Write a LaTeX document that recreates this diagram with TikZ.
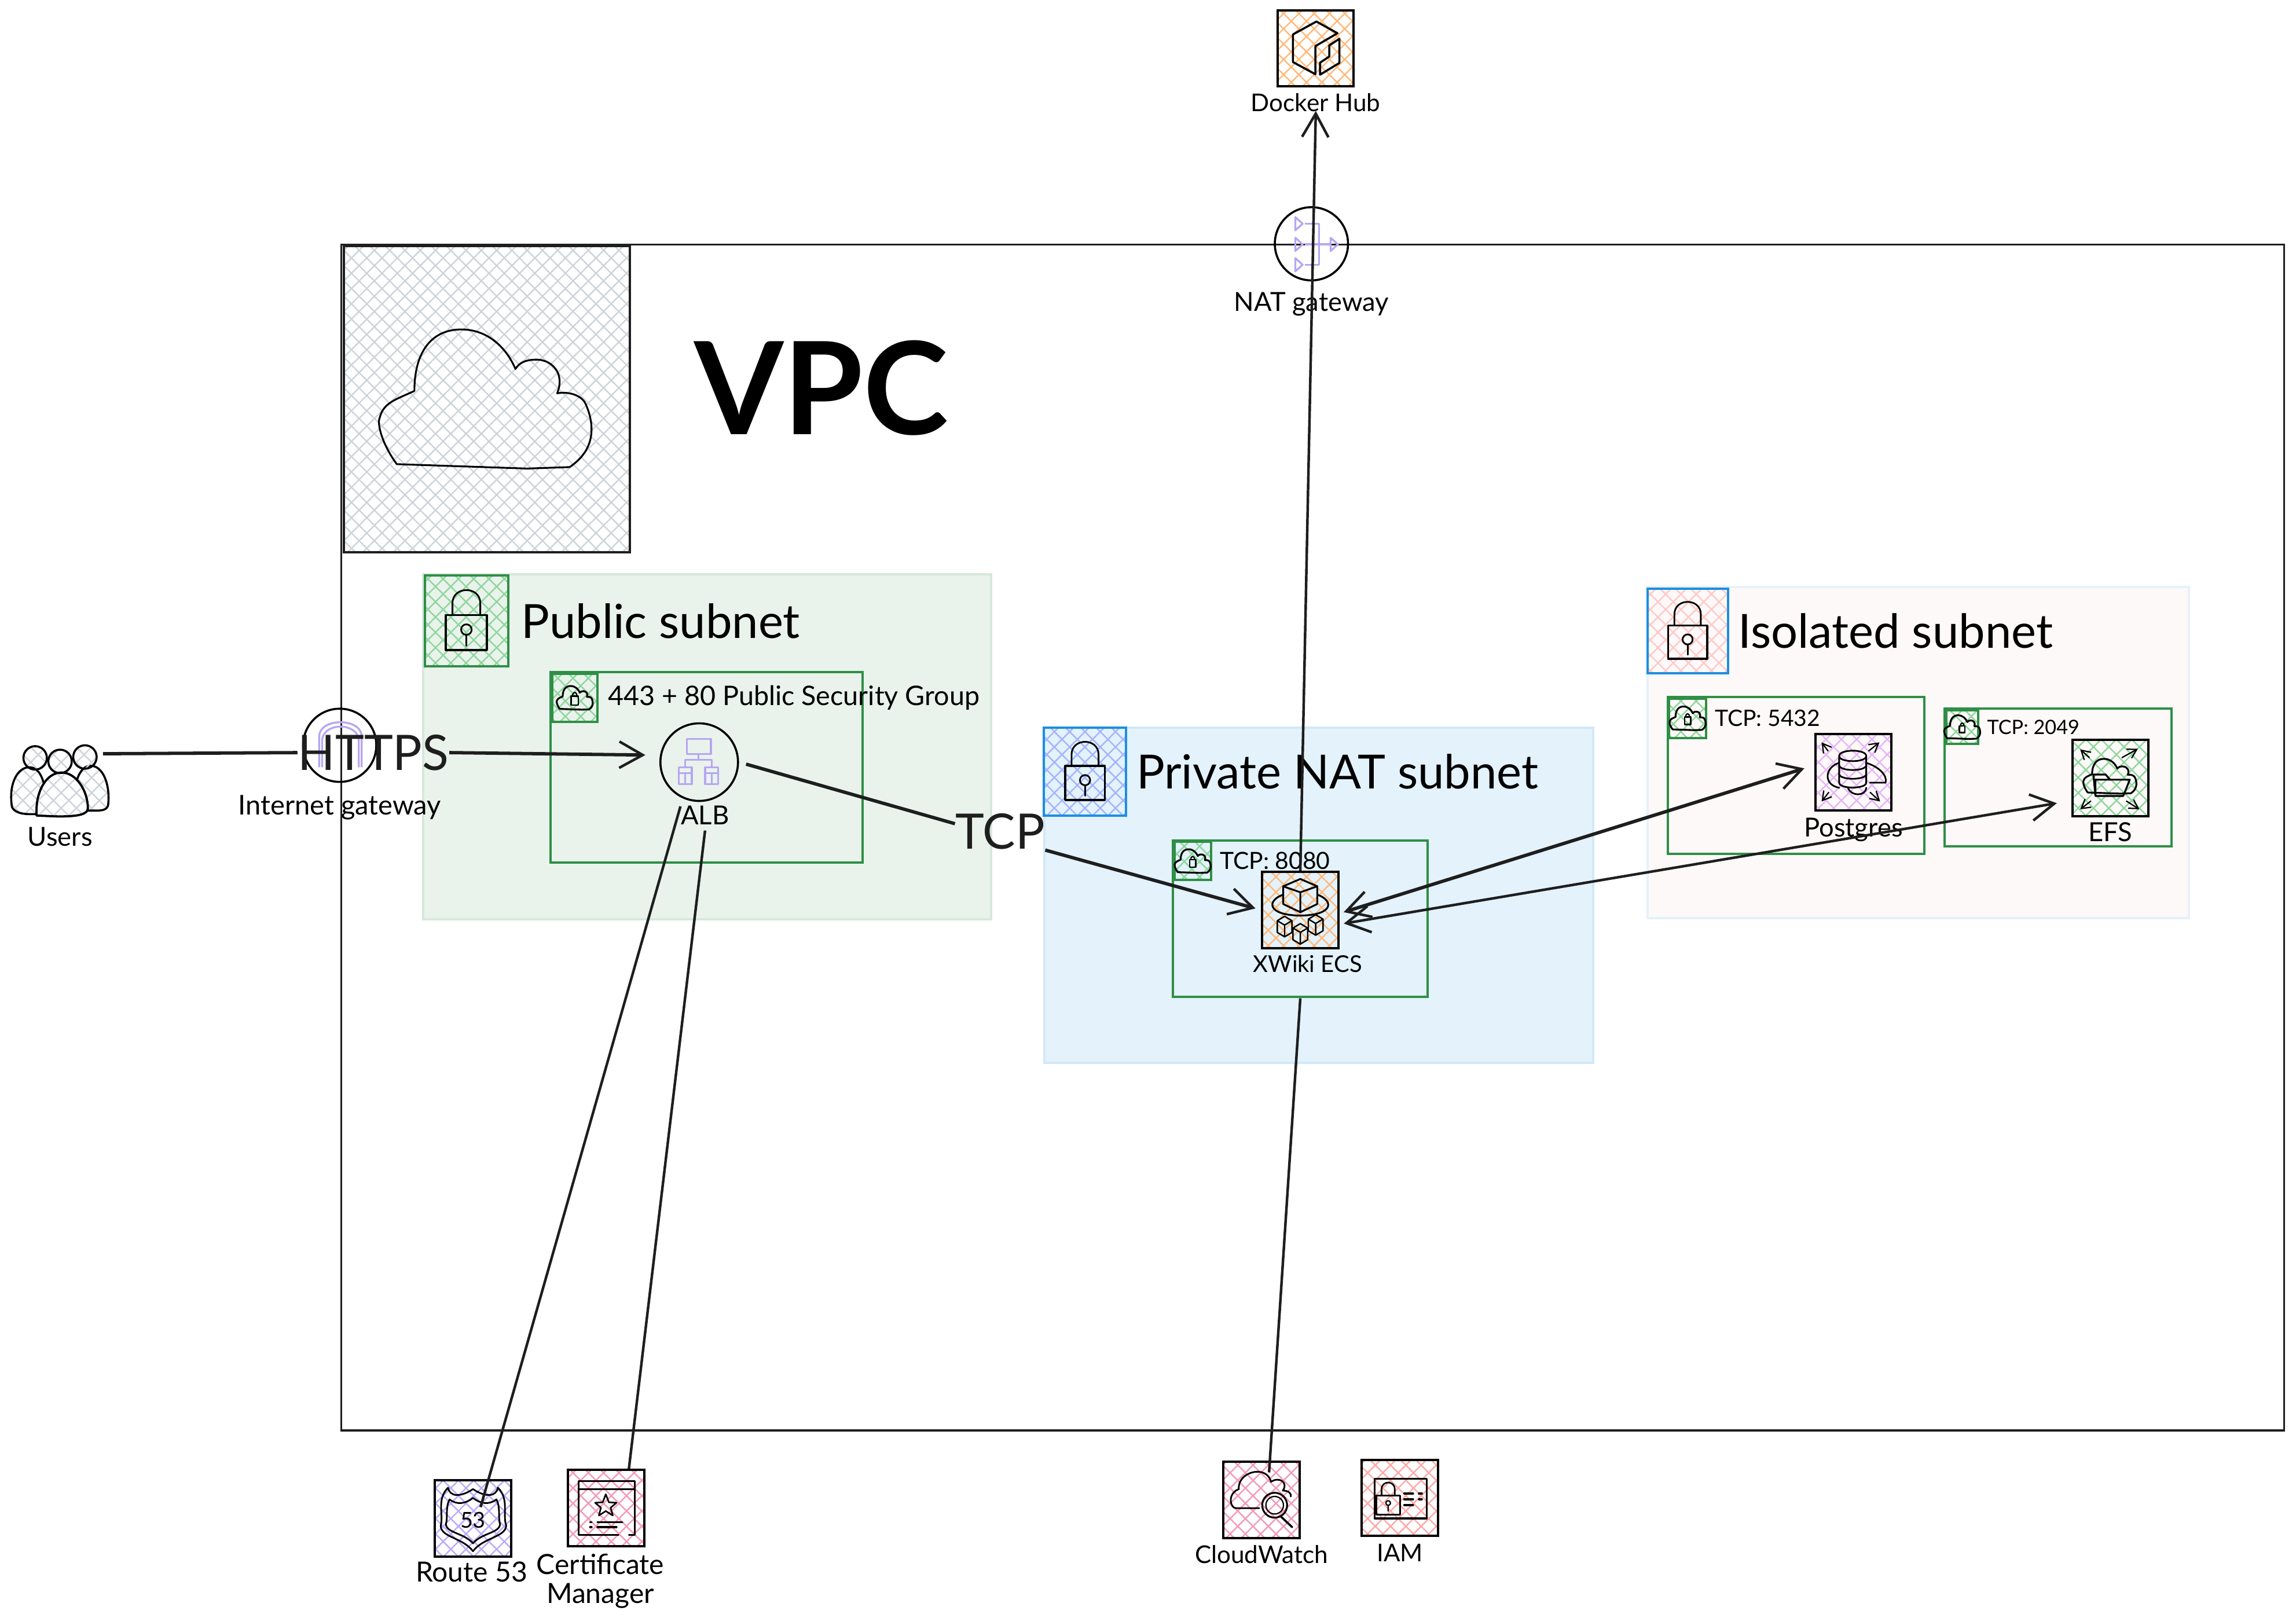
\documentclass[tikz,border=0pt]{standalone}
\usepackage{fontspec}
\setmainfont{Lato}
\usepackage{tikz}
\usetikzlibrary{arrows.meta,positioning,patterns.meta}

\definecolor{hatchgrey}{HTML}{CED4DA}
\definecolor{hatchgreen}{HTML}{8FD69C}
\definecolor{hatchblue}{HTML}{A5B4FC}
\definecolor{hatchred}{HTML}{FFC9C9}
\definecolor{hatchorange}{HTML}{FFB97A}
\definecolor{hatchmauve}{HTML}{E6B5F7}
\definecolor{hatchviolet}{HTML}{BBAAF8}
\definecolor{hatchpink}{HTML}{F39AB8}
\definecolor{hatchrose}{HTML}{FFA8A8}
\definecolor{glyphviolet}{HTML}{B7A6F2}
\definecolor{sggreen}{HTML}{2F8F46}
\definecolor{tagblue}{HTML}{1C8FE0}
\definecolor{inkdark}{HTML}{1E1E1E}
\definecolor{pubfill}{HTML}{E9F3EC}
\definecolor{pubedge}{HTML}{D6E8DC}
\definecolor{privfill}{HTML}{E3F2FB}
\definecolor{privedge}{HTML}{D2E8F7}
\definecolor{isofill}{HTML}{FDF9F8}
\definecolor{isoedge}{HTML}{E6F1FA}

\begin{document}
\begin{tikzpicture}[x=0.02cm, y=-0.02cm, >={Straight Barb[length=3.2mm,width=3.6mm,line width=1pt]}]
  \tikzstyle{hatch}=[pattern={Hatch[angle=45,distance=4.2pt,line width=0.55pt]}]
  \tikzstyle{icon}=[draw, hatch, line width=0.9pt, minimum size=1.04cm, inner sep=0pt]
  \tikzstyle{subnet}=[draw, line width=0.9pt]
  \tikzstyle{secgroup}=[draw=sggreen, line width=0.9pt]
  \tikzstyle{tagbox}=[hatch, line width=0.9pt, inner sep=0pt]
  \tikzstyle{gate}=[draw, circle, line width=0.8pt, minimum size=1cm, inner sep=0pt]
  \tikzstyle{lab}=[font=\fontsize{10.2}{11.4}\selectfont, inner sep=0pt, align=center]
  \tikzstyle{tag}=[lab, text height=7pt, text depth=2pt]
  \tikzstyle{sglab}=[font=\fontsize{9.2}{11}\selectfont, inner sep=0pt]
  \tikzstyle{netlab}=[font=\fontsize{18.3}{20}\selectfont, inner sep=0pt]
  \tikzstyle{linklab}=[font=\fontsize{19}{22}\selectfont, inner sep=0pt, text=inkdark]
  \tikzstyle{link}=[draw=inkdark, line width=1pt]
  \tikzstyle{heavylink}=[draw=inkdark, line width=1.3pt]
  \tikzstyle{glyph}=[line width=0.8pt, line join=round, line cap=round]
  \tikzstyle{violet}=[draw=glyphviolet, line width=0.75pt, line join=round]
  \tikzstyle{tiny}=[->, >={Straight Barb[length=1.2mm,width=1.4mm,line width=0.5pt]}, line width=0.5pt]
  \tikzset{
    lockpic/.pic={
      \draw[glyph] (-14,-4) rectangle (14,20);
      \draw[glyph, line width=0.65pt] (-9.5,-4) -- (-9.5,-12) .. controls (-9.5,-24) and (9.5,-24) .. (9.5,-12) -- (9.5,-4);
      \draw[glyph, line width=0.65pt] (0,6) circle (3.6);
      \draw[glyph, line width=0.65pt] (0,9.6) -- (0,17);
    },
    cloudpic/.pic={
      \draw[glyph, line width=0.7pt] (-49,-5) .. controls (-49,-32) and (-37,-47) .. (-17,-47) .. controls (3,-47) and (15,-32) .. (20,-20)
        .. controls (23,-25) and (28,-26.4) .. (35,-26.4) .. controls (45,-26) and (54,-17) .. (48.5,-3.4)
        .. controls (58,-5) and (66,-1) .. (68,4) .. controls (72,13) and (78,33) .. (57,47) -- (28,48) -- (-61,45)
        .. controls (-70,33) and (-75,18) .. (-72.6,13) .. controls (-70,3) and (-62,1) .. (-49,-5);
    },
    sgpic/.pic={
      \pic[scale=0.17, xshift=0.3] {cloudpic};
      \draw[glyph, line width=0.6pt] (-2.4,-1) rectangle (2.4,5);
      \draw[glyph, line width=0.5pt] (-1.5,-1) .. controls (-1.5,-4.5) and (1.5,-4.5) .. (1.5,-1);
    },
    boxpic/.pic={
      \draw[glyph, line width=0.55pt] (-5,-4) -- (0,-7) -- (5,-4) -- (5,4) -- (0,7) -- (-5,4) -- cycle (-5,-4) -- (0,-1) -- (5,-4) (0,-1) -- (0,7);
    }
  }

  % containers
  \fill[white] (0,0) rectangle (1568,1105);
  \useasboundingbox (0,0) rectangle (1568,1105);
  \node[draw=inkdark, line width=0.8pt, minimum width=26.54cm, minimum height=16.2cm, inner sep=0pt] (vpc) at (896.5,572) {};
  \node[draw=inkdark, line width=0.9pt, hatch, pattern color=hatchgrey, minimum width=3.9cm, minimum height=4.18cm, inner sep=0pt] (vpcicon) at (332.5,272.5) {};
  \pic at (332,272) {cloudpic};
  \node[font=\fontsize{50}{52}\bfseries\selectfont, inner sep=0pt] (vpclab) at (561,265) {VPC};

  \node[subnet, draw=pubedge, fill=pubfill, minimum width=7.76cm, minimum height=4.72cm, inner sep=0pt] (public) at (483,510) {};
  \node[subnet, draw=privedge, fill=privfill, minimum width=7.5cm, minimum height=4.58cm, inner sep=0pt] (private) at (900.5,611.5) {};
  \node[subnet, draw=isoedge, fill=isofill, minimum width=7.4cm, minimum height=4.52cm, inner sep=0pt] (isolated) at (1310,514) {};

  \node[tagbox, draw=sggreen, pattern color=hatchgreen, minimum width=1.14cm, minimum height=1.24cm] (pubicon) at (318.5,424) {};
  \node[tagbox, draw=tagblue, pattern color=hatchblue, minimum width=1.12cm, minimum height=1.2cm] (privicon) at (741,527) {};
  \node[tagbox, draw=tagblue, pattern color=hatchred, minimum width=1.1cm, minimum height=1.16cm] (isoicon) at (1152.5,431) {};
  \pic at (pubicon) {lockpic};
  \pic[scale=0.97] at (privicon) {lockpic};
  \pic[scale=0.95] at (isoicon) {lockpic};
  \node[netlab, right=0.16cm of pubicon] (publab) {Public subnet};
  \node[netlab, right=0.12cm of privicon] (privlab) {Private NAT subnet};
  \node[netlab, right=0.12cm of isoicon] (isolab) {Isolated subnet};

  % security groups
  \node[secgroup, minimum width=4.26cm, minimum height=2.6cm, inner sep=0pt] (sgpublic) at (482.5,524) {};
  \node[secgroup, minimum width=3.48cm, minimum height=2.14cm, inner sep=0pt] (sgecs) at (888,627.5) {};
  \node[secgroup, minimum width=3.5cm, minimum height=2.14cm, inner sep=0pt] (sgdb) at (1226.5,529.5) {};
  \node[secgroup, minimum width=3.1cm, minimum height=1.88cm, inner sep=0pt] (sgefs) at (1405.5,531) {};
  \node[tagbox, draw=sggreen, pattern color=hatchgreen, minimum width=0.62cm, minimum height=0.66cm] (sgpubicon) at (392.5,476.5) {};
  \node[tagbox, draw=sggreen, pattern color=hatchgreen, minimum width=0.5cm, minimum height=0.52cm] (sgecsicon) at (814.5,588) {};
  \node[tagbox, draw=sggreen, pattern color=hatchgreen, minimum width=0.5cm, minimum height=0.54cm] (sgdbicon) at (1152.5,490.5) {};
  \node[tagbox, draw=sggreen, pattern color=hatchgreen, minimum width=0.44cm, minimum height=0.46cm] (sgefsicon) at (1340,496.5) {};
  \pic at (sgpubicon) {sgpic};
  \pic[scale=0.85] at (sgecsicon) {sgpic};
  \pic[scale=0.85] at (sgdbicon) {sgpic};
  \pic[scale=0.75] at (sgefsicon) {sgpic};
  \node[sglab, font=\fontsize{10.5}{12}\selectfont, right=0.12cm of sgpubicon] (sgpublab) {443 + 80 Public Security Group};
  \node[sglab, right=0.1cm of sgecsicon] (sgecslab) {TCP: 8080};
  \node[sglab, font=\fontsize{8.8}{11}\selectfont, right=0.1cm of sgdbicon] (sgdblab) {TCP: 5432};
  \node[sglab, font=\fontsize{7.7}{10}\selectfont, right=0.1cm of sgefsicon] (sgefslab) {TCP: 2049};

  % services
  \node[icon, pattern color=hatchorange] (docker) at (898.5,33) {};
  \draw[glyph] (883,23.5) -- (899,14.7) -- (913.4,22.7) -- (898.3,31.5) -- (898.3,50.7) -- (883,42.4) -- cycle;
  \draw[glyph] (914.7,26.5) -- (914.7,43) -- (901.5,51) -- (901.5,42.8) -- (907.8,38.6) -- (907.8,31) -- cycle;
  \node[tag, font=\fontsize{9.5}{11}\selectfont, below=0.07cm of docker] (dockerlab) {Docker Hub};

  \node[gate] (nat) at (895.6,166.5) {};
  \draw[violet] (884.6,148.3) -- (889.6,152.8) -- (884.6,157.3) -- cycle (884.6,162.4) -- (889.6,166.9) -- (884.6,171.4) -- cycle (884.6,176.3) -- (889.6,180.8) -- (884.6,185.3) -- cycle;
  \draw[violet] (891,152.8) -- (900.8,152.8) -- (900.8,180.8) -- (891,180.8) (891,166.9) -- (908.7,166.9);
  \draw[violet] (908.7,162.4) -- (913.7,166.9) -- (908.7,171.4) -- cycle;
  \node[tag, below=0.15cm of nat] (natlab) {NAT gateway};

  \node[gate] (igw) at (232,509) {};
  \draw[violet] (218,524) -- (218,503) .. controls (218,490) and (247,490) .. (247,503) -- (247,524);
  \draw[violet] (220,524) -- (220,506) .. controls (220,493) and (245,493) .. (245,506) -- (245,524);
  \node[tag, font=\fontsize{10.6}{12}\selectfont, below=0.18cm of igw] (igwlab) {Internet gateway};

  \node[inner sep=0pt, minimum width=1.32cm, minimum height=0.96cm] (users) at (41,534) {};
  \draw[glyph, hatch, pattern color=hatchgrey] (8,550) .. controls (6,535) and (12,524) .. (20,524) .. controls (28,524) and (32,535) .. (32,556) -- (20,556) .. controls (12,556) and (8,553) .. (8,550);
  \draw[glyph, hatch, pattern color=hatchgrey] (74,548) .. controls (75,535) and (70,523) .. (62,523) .. controls (54,523) and (50,535) .. (50,553.6) -- (66,553.6) .. controls (72,553.6) and (74,552) .. (74,548);
  \draw[glyph, fill=white] (25,557) .. controls (24,540) and (32,527.6) .. (42,527.6) .. controls (52,527.6) and (60,540) .. (60,552) .. controls (60,556) and (54,557.6) .. (40,557.6) -- cycle;
  \draw[glyph, hatch, pattern color=hatchgrey] (25,557) .. controls (24,540) and (32,527.6) .. (42,527.6) .. controls (52,527.6) and (60,540) .. (60,552) .. controls (60,556) and (54,557.6) .. (40,557.6) -- cycle;
  \draw[glyph, hatch, pattern color=hatchgrey] (24,517.6) circle (8);
  \draw[glyph, hatch, pattern color=hatchgrey] (58,517) circle (8);
  \draw[glyph, hatch, pattern color=hatchgrey] (41,520) circle (8);
  \node[tag, below=0.14cm of users] (userslab) {Users};

  \node[gate, minimum size=1.06cm] (alb) at (477.5,520.5) {};
  \draw[violet] (469,504.6) rectangle (485.5,515) (477,515) -- (477,519) (468,524) -- (468,519) -- (486,519) -- (486,524);
  \draw[violet] (463.5,524) rectangle (472.5,528) (481.5,524) rectangle (490.5,528);
  \draw[violet] (463.5,528) rectangle (468,535.4) (468,528) rectangle (472.5,535.4) (481.5,528) rectangle (486,535.4) (486,528) rectangle (490.5,535.4);
  \node[tag, below=0.06cm of alb, xshift=0.08cm] (alblab) {ALB};

  \node[icon, pattern color=hatchorange] (ecs) at (888,621.5) {};
  \draw[glyph, line width=0.7pt] (876.3,611) .. controls (865,615) and (865,625) .. (888,625.3) .. controls (911,625) and (911,615) .. (899.6,611);
  \draw[glyph, line width=0.7pt] (876.3,605.3) -- (888,600.3) -- (899.6,605.3) -- (899.6,617.4) -- (888,623) -- (876.3,617.4) -- cycle (876.3,605.3) -- (888,609.4) -- (899.6,605.3) (888,609.4) -- (888,623);
  \pic at (877.3,632.8) {boxpic};
  \pic at (898.5,631.7) {boxpic};
  \pic at (888,637.8) {boxpic};
  \node[tag, font=\fontsize{9}{11}\selectfont, below=0.06cm of ecs, xshift=0.1cm] (ecslab) {XWiki ECS};

  \node[icon, pattern color=hatchmauve] (postgres) at (1265.7,527.4) {};
  \draw[glyph, line width=0.65pt] (1256,516.3) .. controls (1256,511.5) and (1274.5,511.5) .. (1274.5,516.3) .. controls (1274.5,521) and (1256,521) .. (1256,516.3) -- (1256,534.5) .. controls (1256,539) and (1274.5,539) .. (1274.5,534.5) -- (1274.5,516.3);
  \draw[glyph, line width=0.65pt] (1256,522.5) .. controls (1256,527) and (1274.5,527) .. (1274.5,522.5) (1256,528.5) .. controls (1256,533) and (1274.5,533) .. (1274.5,528.5);
  \draw[glyph, line width=0.65pt] (1256,521) .. controls (1246,524) and (1245,536) .. (1256,538) (1274.5,521) .. controls (1284,524) and (1289,530) .. (1287.7,534.5) -- (1277,534.5) (1274.5,538) .. controls (1274,544) and (1264,544) .. (1262,538);
  \draw[tiny] (1248.5,513) -- (1244,507);
  \draw[tiny] (1276,513) -- (1283.5,507);
  \draw[tiny] (1249,541) -- (1244,547.4);
  \draw[tiny] (1277,541) -- (1284,547.4);
  \node[tag, below=0.09cm of postgres] (postgreslab) {Postgres};

  \node[icon, pattern color=hatchgreen] (efs) at (1441.3,531.4) {};
  \pic[scale=0.25] at (1441,530) {cloudpic};
  \draw[glyph, line width=0.7pt] (1429.6,529) -- (1438,529) -- (1441,532.5) -- (1454.5,532.5) -- (1450,543.6) -- (1431,543.6) -- cycle (1431,543.6) -- (1431,532.5) -- (1441,532.5);
  \draw[tiny] (1427,517.5) -- (1420.6,511.8);
  \draw[tiny] (1449,517.5) -- (1460,511.4);
  \draw[tiny] (1428,547) -- (1420.6,552.7);
  \draw[tiny] (1452,547) -- (1461,552.7);
  \node[tag, below=0.08cm of efs] (efslab) {EFS};

  \node[icon, pattern color=hatchviolet] (route53) at (323,1037) {};
  \draw[glyph, line width=0.65pt] (306,1016) .. controls (307,1022) and (314,1023) .. (323,1017) .. controls (332,1023) and (339,1022) .. (340,1016) .. controls (348,1024) and (343,1034) .. (345.7,1042) .. controls (345,1050) and (330,1050) .. (323,1059.4) .. controls (316,1050) and (301,1050) .. (301,1042) .. controls (303,1034) and (298,1024) .. (306,1016) -- cycle;
  \draw[glyph, line width=0.65pt] (307,1024) .. controls (312,1028) and (318,1027) .. (323,1023) .. controls (328,1027) and (334,1028) .. (339,1024) .. controls (342,1030) and (340,1036) .. (341.5,1041) .. controls (341,1047) and (329,1047) .. (323,1054) .. controls (317,1047) and (305,1047) .. (304.5,1041) .. controls (306,1036) and (304,1030) .. (307,1024) -- cycle;
  \node[font=\fontsize{8.5}{10}\selectfont, inner sep=0pt] (route53num) at (323,1038) {53};
  \node[tag, font=\fontsize{10.8}{12}\selectfont, below=0.08cm of route53, xshift=-0.02cm] (route53lab) {Route 53};

  \node[icon, pattern color=hatchpink] (acm) at (414,1030) {};
  \draw[glyph, line width=0.7pt] (422.4,1048.4) -- (395,1048.4) -- (395,1011.5) -- (433.4,1011.5) -- (433.4,1048.4) -- (429.5,1048.4) (395,1017) -- (433.4,1017);
  \draw[glyph, line width=0.6pt] (413.7,1020.5) -- (415.8,1026) -- (421,1026.3) -- (417,1029.7) -- (418.5,1035) -- (413.7,1032) -- (409,1035) -- (410.4,1029.7) -- (406.4,1026.3) -- (411.6,1026) -- cycle;
  \draw[glyph] (403,1039.5) -- (404,1039.5) (408,1039.5) -- (425,1039.5) (403,1043) -- (404,1043) (408,1043) -- (421,1043);
  \node[lab, font=\fontsize{10.8}{11.4}\selectfont, below=0.08cm of acm, xshift=-0.08cm] (acmlab) {Certificate\\Manager};

  \node[icon, pattern color=hatchpink] (cloudwatch) at (861.5,1024.4) {};
  \draw[glyph, line width=0.65pt] (860,1030) -- (844,1030) .. controls (840,1030) and (838,1020) .. (846,1017) .. controls (845,1005) and (865,1000) .. (868,1012) .. controls (874,1008) and (880,1013) .. (876,1018) .. controls (880,1018) and (882,1020) .. (881.5,1022);
  \draw[glyph, line width=0.7pt] (870.5,1028) circle (8.5);
  \draw[glyph, line width=0.5pt] (870.5,1028) circle (6);
  \draw[glyph] (874.5,1035.5) -- (882.5,1043);
  \node[tag, font=\fontsize{9.5}{11}\selectfont, below=0.08cm of cloudwatch] (cloudwatchlab) {CloudWatch};

  \node[icon, pattern color=hatchrose] (iam) at (956,1023) {};
  \draw[glyph, line width=0.7pt] (938.6,1010) rectangle (974.5,1037);
  \draw[glyph, line width=0.7pt] (940,1021.4) rectangle (956,1034.6);
  \draw[glyph, line width=0.6pt] (943.5,1021.4) -- (943.5,1017) .. controls (943.5,1011) and (952.5,1011) .. (952.5,1017) -- (952.5,1021.4);
  \draw[glyph, line width=0.5pt] (948,1026.5) circle (1.6) (948,1028) -- (948,1032);
  \draw[glyph] (959,1020) -- (965,1020) (969,1020) -- (971,1020) (959,1024) -- (965,1024) (969,1024) -- (971,1024) (959,1028) -- (965,1028);
  \node[tag, font=\fontsize{9.5}{11}\selectfont, below=0.08cm of iam] (iamlab) {IAM};

  % connections
  \node[linklab] (httpslab) at (255,514) {HTTPS};
  \node[linklab] (tcplab) at (683,568) {TCP};
  \draw[heavylink, shorten <=-0.08cm] (users.30) -- (httpslab.west);
  \draw[heavylink, ->, shorten >=0.2cm] (httpslab.east) -- (alb.170);
  \draw[heavylink, shorten <=0.1cm] (alb.east) -- (tcplab.170);
  \draw[heavylink, ->, shorten >=0.08cm] (tcplab.south east) -- (ecs.west);
  \draw[link, ->, shorten >=-0.08cm] (ecs.north) -- (dockerlab.south);
  \draw[heavylink, <->, shorten <=0.06cm, shorten >=0.14cm] (ecs.-5) -- (postgres.170);
  \draw[link, <->, shorten <=0.06cm, shorten >=0.2cm] (ecs.-20) -- (efs.210);
  \draw[link, shorten >=0.16cm] (alblab.north west) -- ([xshift=0.06cm]route53.center);
  \draw[link] (alblab.south) -- (acm.60);
  \draw[link, shorten >=-0.16cm] (sgecs.south) -- (cloudwatch.78);
\end{tikzpicture}
\end{document}
